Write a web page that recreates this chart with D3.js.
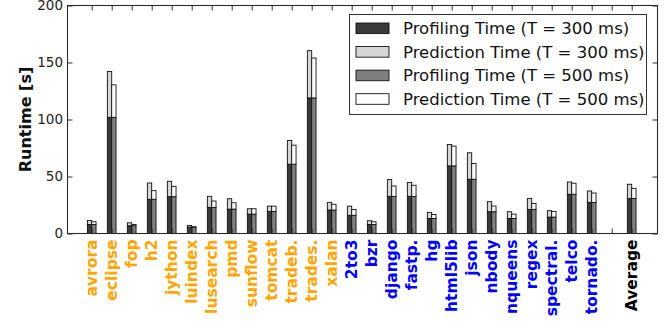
<!DOCTYPE html>
<html><head><meta charset="utf-8">
<script src="https://cdn.jsdelivr.net/npm/d3@7"></script>
<style>body{margin:0;background:#fff}svg{display:block}text{font-family:"DejaVu Sans",sans-serif}</style>
</head><body><svg id="c" width="664" height="323"></svg>
<script>
const categories = ["avrora","eclipse","fop","h2","jython","luindex","lusearch","pmd","sunflow","tomcat","tradeb.","trades.","xalan",
  "2to3","bzr","django","fastp.","hg","html5lib","json","nbody","nqueens","regex","spectral.","telco","tornado.","","Average"];
const groups = ["dacapo","dacapo","dacapo","dacapo","dacapo","dacapo","dacapo","dacapo","dacapo","dacapo","dacapo","dacapo","dacapo",
  "python","python","python","python","python","python","python","python","python","python","python","python","python","none","avg"];
// profiling / prediction times [s]
const prof300 = [7.9,101.9,6.8,30,32.3,5.6,22.9,21.4,17,19.4,60.8,118.9,20.6,16,7.9,32.6,32.6,13.2,59.3,47.6,19.1,13.2,21.1,14.4,34.4,27.3,0,30.8];
const total300 = [11.5,142.1,9.4,44.3,45.8,7,32.6,30.5,21.7,24,81.6,160.4,27.3,24,11.2,47.3,44.7,18.5,78.1,70.8,27.9,19.1,30.8,20,45.2,37.3,0,43.2];
const prof500 = [7.9,101.9,6.8,30,32.3,5.6,22.9,21.4,17,19.4,60.8,118.9,20.6,16,7.9,32.6,32.6,13.2,59.3,47.6,19.1,13.2,21.1,14.4,34.4,27.3,0,30.8];
const total500 = [10.3,130.4,7.9,37.6,41.4,5.9,28.5,27,21.7,24,77.5,153.9,25.6,21.1,10.3,41.7,42.3,16.7,76.7,61.4,24.1,17,26.4,19.4,44.1,35.5,0,39.6];
const yTicks = [0,50,100,150,200];
const legendLabels = ["Profiling Time (T = 300 ms)","Prediction Time (T = 300 ms)","Profiling Time (T = 500 ms)","Prediction Time (T = 500 ms)"];

const colors = ["#3a3a3a","#d6d6d6","#7f7f7f","#ffffff"];
const labelColor = {dacapo:"#ffa500", python:"#0000ff", avg:"#000000", none:"#000"};

const svg = d3.select("#c");
const L=67.5, R=657.5, T=5.5, B=233.5;
const x = d3.scaleLinear().domain([-1.21, 28.29]).range([L,R]);
const y = d3.scaleLinear().domain([0,200]).range([B,T]);
const bw = 0.217;

const idx = d3.range(categories.length).filter(i=>categories[i]!=="");
const g = svg.append("g");

// bottom ticks (inside)
const tickIdx = d3.range(categories.length);
svg.append("g").attr("transform",`translate(0,${B})`)
  .call(d3.axisTop(x).tickValues(tickIdx).tickSize(5).tickFormat(""))
  .call(s=>{s.select(".domain").remove(); s.selectAll("line").attr("stroke","#333");});

function bars(prof, total, c1, c2, off){
  g.selectAll(null).data(idx).enter().append("rect")
    .attr("x", i=>x(i+off)).attr("width", x(bw)-x(0))
    .attr("y", i=>y(prof[i])).attr("height", i=>y(0)-y(prof[i]))
    .attr("fill", c1).attr("stroke","#111").attr("stroke-width",0.9);
  g.selectAll(null).data(idx).enter().append("rect")
    .attr("x", i=>x(i+off)).attr("width", x(bw)-x(0))
    .attr("y", i=>y(total[i])).attr("height", i=>y(prof[i])-y(total[i]))
    .attr("fill", c2).attr("stroke","#111").attr("stroke-width",0.9);
}
bars(prof300,total300,colors[0],colors[1],-bw);
bars(prof500,total500,colors[2],colors[3],0);

// top ticks
svg.append("g").attr("transform",`translate(0,${T})`)
  .call(d3.axisBottom(x).tickValues(tickIdx).tickSize(5).tickFormat(""))
  .call(s=>{s.select(".domain").remove(); s.selectAll("line").attr("stroke","#333");});

// left / right axis ticks
svg.append("g").attr("transform",`translate(${L},0)`)
  .call(d3.axisRight(y).tickValues(yTicks).tickSize(5).tickFormat(""))
  .call(s=>{s.select(".domain").remove(); s.selectAll("line").attr("stroke","#333");});
svg.append("g").attr("transform",`translate(${R},0)`)
  .call(d3.axisLeft(y).tickValues(yTicks).tickSize(5).tickFormat(""))
  .call(s=>{s.select(".domain").remove(); s.selectAll("line").attr("stroke","#333");});
svg.selectAll(null).data(yTicks).enter().append("text")
  .attr("x", L-4.5).attr("y", d=>y(d)).attr("dy","0.36em")
  .attr("text-anchor","end").attr("font-size",13.5).attr("fill","#222").text(d=>d);

// frame
svg.append("rect").attr("x",L).attr("y",T).attr("width",R-L).attr("height",B-T)
  .attr("fill","none").attr("stroke","#2a2a2a").attr("stroke-width",1.1);

// x labels
svg.selectAll(null).data(idx).enter().append("text")
  .attr("transform", i=>`translate(${x(i)},${B+6}) rotate(-90)`)
  .attr("text-anchor","end").attr("dy","0.36em")
  .attr("font-size",15.5).attr("font-weight","bold")
  .attr("fill", i=>labelColor[groups[i]]).text(i=>categories[i]);

// y label
svg.append("text").attr("transform",`translate(25,${(T+B)/2}) rotate(-90)`)
  .attr("text-anchor","middle").attr("dy","0.36em")
  .attr("font-size",16).attr("font-weight","bold").attr("fill","#111").text("Runtime [s]");

// legend
const lg = svg.append("g");
lg.append("rect").attr("x",349.5).attr("y",14.5).attr("width",297).attr("height",100)
  .attr("fill","#fff").attr("stroke","#333").attr("stroke-width",1);
const ly = d3.scaleLinear().domain([0,3]).range([28.3,99]);
legendLabels.forEach((t,k)=>{
  lg.append("rect").attr("x",356).attr("y",ly(k)-5.3).attr("width",33).attr("height",10.6)
    .attr("fill",colors[k]).attr("stroke","#111").attr("stroke-width",0.9);
  lg.append("text").attr("x",403).attr("y",ly(k)).attr("dy","0.36em")
    .attr("font-size",16.5).attr("fill","#111").text(t);
});
</script></body></html>
